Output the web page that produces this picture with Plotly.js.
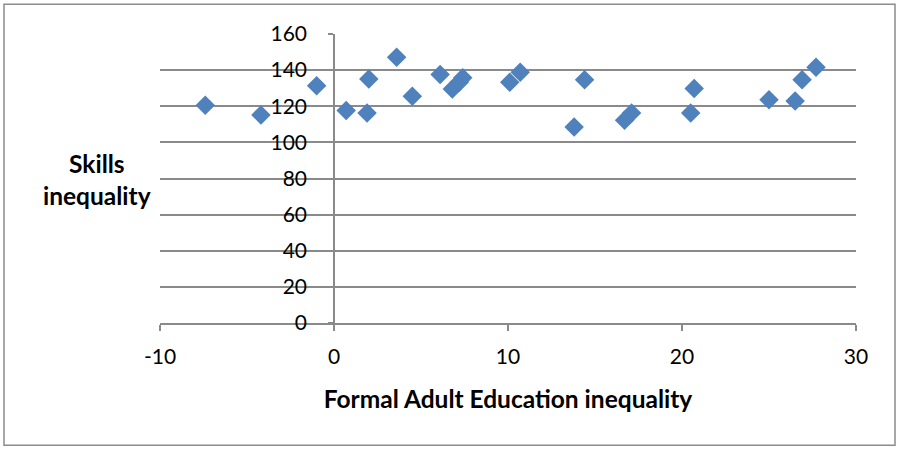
<!DOCTYPE html>
<html>
<head>
<meta charset="utf-8">
<script src="https://cdn.plot.ly/plotly-3.0.1.min.js"></script>
<style>
  html, body { margin: 0; padding: 0; background: #ffffff; }
  #chart { width: 899px; height: 449px; }
</style>
</head>
<body>
<div id="chart"></div>
<script>
// Formal Adult Education inequality (x) vs Skills inequality (y)
const adultEduInequality = [-7.4, -4.2, -1.0, 0.7, 1.9, 2.0, 3.6, 4.5, 6.1, 6.8, 7.2, 7.4, 10.1, 10.7, 13.8, 14.4, 16.7, 17.1, 20.5, 20.7, 25.0, 26.5, 26.9, 27.7];
const skillsInequality   = [120.5, 115.2, 131.3, 117.7, 116.3, 135.1, 147.1, 125.6, 137.6, 129.5, 133.3, 135.8, 133.3, 138.8, 108.5, 134.7, 112.2, 116.2, 116.2, 129.8, 123.6, 122.9, 134.7, 141.6];

const xTickVals = [-10, 0, 10, 20, 30];
const xTickText = ['-10', '0', '10', '20', '30'];
const yTickVals = [0, 20, 40, 60, 80, 100, 120, 140, 160];

const xTitle = 'Formal Adult Education inequality';
const yTitle = 'Skills<br>inequality';

const gridGray = '#8a8a8a';
const font = 'Lato, "Open Sans", sans-serif';

const trace = {
  type: 'scatter',
  mode: 'markers',
  x: adultEduInequality,
  y: skillsInequality,
  marker: { symbol: 'diamond', size: 15, color: '#4F81BD', line: { width: 0 } },
  hoverinfo: 'x+y'
};

const layout = {
  width: 899,
  height: 449,
  margin: { l: 160, r: 43, t: 34, b: 126, pad: 0 },
  paper_bgcolor: '#ffffff',
  plot_bgcolor: '#ffffff',
  showlegend: false,
  font: { family: font, size: 21, color: '#000000' },
  xaxis: {
    range: [-10, 30],
    tickmode: 'array',
    tickvals: xTickVals,
    ticktext: xTickText,
    showgrid: false,
    zeroline: false,
    showline: true,
    linecolor: gridGray,
    linewidth: 1.5,
    ticks: 'outside',
    ticklen: 6,
    tickwidth: 1.5,
    tickcolor: gridGray,
    ticklabelstandoff: 8,
    tickfont: { family: font, size: 21, color: '#000000' },
    title: { text: '<b>' + xTitle + '</b>', font: { family: font, size: 24.5, color: '#000000' }, standoff: 24 }
  },
  yaxis: {
    range: [0, 160],
    tickmode: 'array',
    tickvals: yTickVals,
    anchor: 'free',
    position: 0.25,
    showgrid: true,
    gridcolor: gridGray,
    gridwidth: 1.5,
    zeroline: false,
    showline: true,
    linecolor: gridGray,
    linewidth: 1.5,
    ticks: 'outside',
    ticklen: 5,
    tickwidth: 1.5,
    tickcolor: gridGray,
    ticklabelstandoff: 17,
    tickfont: { family: font, size: 21, color: '#000000' }
  },
  annotations: [{
    xref: 'paper', yref: 'paper',
    x: -0.0905, y: 0.495,
    xanchor: 'center', yanchor: 'middle',
    showarrow: false,
    align: 'center',
    text: '<b>' + yTitle + '</b>',
    font: { family: font, size: 24.5, color: '#000000' }
  }],
  shapes: [{
    type: 'rect',
    xref: 'paper', yref: 'paper',
    x0: (4 - 160) / 696, x1: (895 - 160) / 696,
    y0: (322.7 - 445) / 289, y1: (322.7 - 4) / 289,
    line: { color: '#8c8c8c', width: 1.5 },
    fillcolor: 'rgba(0,0,0,0)',
    layer: 'below'
  }]
};

Plotly.newPlot('chart', [trace], layout, { displayModeBar: false, responsive: false });
</script>
</body>
</html>
